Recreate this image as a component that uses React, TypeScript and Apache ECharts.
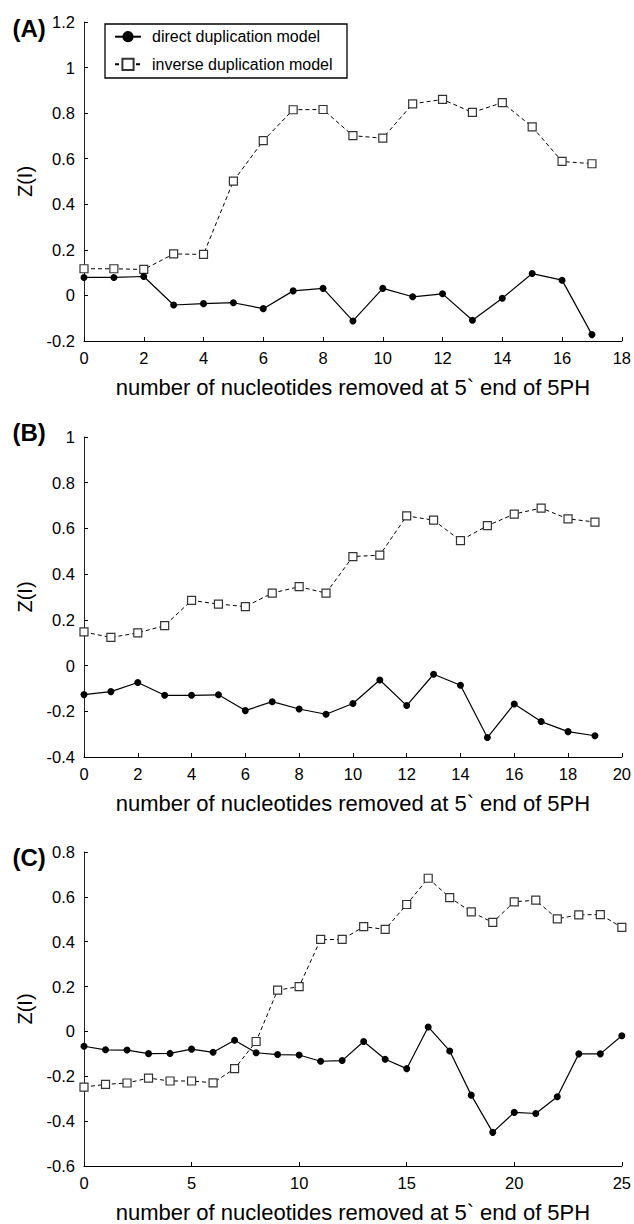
import React, { useEffect, useRef } from "react";
import * as echarts from "echarts";

// Panel A: x = 0..17
const directA = [0.079, 0.079, 0.083, -0.042, -0.036, -0.032, -0.058, 0.02, 0.031, -0.112, 0.031, -0.006, 0.007, -0.109, -0.012, 0.096, 0.067, -0.172];
const inverseA = [0.117, 0.117, 0.114, 0.182, 0.18, 0.502, 0.679, 0.815, 0.816, 0.701, 0.69, 0.841, 0.86, 0.803, 0.846, 0.74, 0.588, 0.578];

// Panel B: x = 0..19
const directB = [-0.127, -0.114, -0.074, -0.13, -0.13, -0.128, -0.197, -0.158, -0.19, -0.213, -0.166, -0.063, -0.175, -0.038, -0.086, -0.315, -0.168, -0.245, -0.289, -0.307];
const inverseB = [0.147, 0.123, 0.143, 0.175, 0.285, 0.269, 0.258, 0.317, 0.345, 0.317, 0.477, 0.483, 0.655, 0.636, 0.547, 0.612, 0.663, 0.689, 0.642, 0.628];

// Panel C: x = 0..25
const directC = [-0.066, -0.082, -0.083, -0.099, -0.098, -0.079, -0.093, -0.039, -0.095, -0.103, -0.105, -0.133, -0.13, -0.045, -0.124, -0.166, 0.02, -0.087, -0.284, -0.45, -0.361, -0.366, -0.291, -0.1, -0.1, -0.019];
const inverseC = [-0.248, -0.236, -0.23, -0.208, -0.221, -0.221, -0.229, -0.166, -0.045, 0.184, 0.2, 0.41, 0.41, 0.467, 0.455, 0.566, 0.683, 0.597, 0.533, 0.486, 0.578, 0.585, 0.502, 0.52, 0.521, 0.464];

const panelLabels = ["(A)", "(B)", "(C)"];
const xMax = [18, 20, 25];
const xStep = [2, 2, 5];
const yMin = [-0.2, -0.4, -0.6];
const yMax = [1.2, 1, 0.8];
const seriesNames = ["direct duplication model", "inverse duplication model"];
const xTitle = "number of nucleotides removed at 5` end of 5PH";
const yTitle = "Z(I)";

const FONT = "'Liberation Sans', Arial, Helvetica, sans-serif";

const toPairs = (arr: number[]) => arr.map((v, i) => [i, v]);

export default function App() {
  const ref = useRef<HTMLDivElement>(null);

  useEffect(() => {
    document.body.style.margin = "0";
    if (!ref.current) return;
    const chart = echarts.init(ref.current, undefined, { renderer: "svg" });

    const grids = [
      { left: 84, top: 22, width: 538, height: 319 },
      { left: 84, top: 437, width: 538, height: 320 },
      { left: 84, top: 852, width: 538, height: 321 },
    ];
    const labelY = [28.3, 432.5, 857.5];

    const xAxes = grids.map((_, i) => ({
      type: "value",
      gridIndex: i,
      min: 0,
      max: xMax[i],
      interval: xStep[i],
      name: xTitle,
      nameLocation: "middle",
      nameGap: 35,
      nameTextStyle: { fontSize: 22, color: "#000", fontFamily: FONT },
      axisLine: { show: true, onZero: false, lineStyle: { color: "#000", width: 1 } },
      axisTick: { show: true, inside: true, length: 4, lineStyle: { color: "#000", width: 1 } },
      axisLabel: { fontSize: 16.5, margin: 8, color: "#000", fontFamily: FONT },
      splitLine: { show: false },
    }));

    const yAxes = grids.map((_, i) => ({
      type: "value",
      gridIndex: i,
      min: yMin[i],
      max: yMax[i],
      interval: 0.2,
      name: yTitle,
      nameLocation: "middle",
      nameGap: 49,
      nameTextStyle: { fontSize: 20, color: "#000", fontFamily: FONT },
      axisLine: { show: true, onZero: false, lineStyle: { color: "#222", width: 1 } },
      axisTick: { show: true, inside: true, length: 4, lineStyle: { color: "#000", width: 1 } },
      axisLabel: { fontSize: 16.5, margin: 9, color: "#000", fontFamily: FONT },
      splitLine: { show: false },
    }));

    const directStyle = {
      type: "line",
      name: seriesNames[0],
      symbol: "circle",
      symbolSize: 7,
      itemStyle: { color: "#000" },
      lineStyle: { color: "#000", width: 1.2, type: "solid" },
    };
    const inverseStyle = {
      type: "line",
      name: seriesNames[1],
      symbol: "rect",
      symbolSize: 8,
      itemStyle: { color: "#fff", borderColor: "#333", borderWidth: 1.2 },
      lineStyle: { color: "#000", width: 1, type: [4, 3] },
    };

    const directs = [directA, directB, directC];
    const inverses = [inverseA, inverseB, inverseC];
    const series: any[] = [];
    for (let i = 0; i < 3; i++) {
      series.push({ ...directStyle, xAxisIndex: i, yAxisIndex: i, data: toPairs(directs[i]), z: 3 });
      series.push({ ...inverseStyle, xAxisIndex: i, yAxisIndex: i, data: toPairs(inverses[i]), z: 2 });
    }

    chart.setOption({
      animation: false,
      backgroundColor: "#fff",
      grid: grids,
      xAxis: xAxes,
      yAxis: yAxes,
      series,
      legend: {
        data: seriesNames,
        orient: "vertical",
        left: 114,
        top: 28.7,
        padding: 0,
        itemWidth: 26,
        itemHeight: 14,
        itemGap: 11.6,
        selectedMode: false,
        textStyle: { fontSize: 16, lineHeight: 16, color: "#000", fontFamily: FONT, padding: [0, 0, 0, 6] },
      },
      graphic: [
        {
          type: "rect",
          shape: { x: 105, y: 24, width: 242, height: 54 },
          style: { fill: "none", stroke: "#000", lineWidth: 1.3 },
          z: 1,
        },
        ...panelLabels.map((t, i) => ({
          type: "text",
          x: 12.5,
          y: labelY[i],
          style: {
            text: t,
            fontSize: 24,
            fontWeight: "bold",
            fontFamily: FONT,
            fill: "#000",
            verticalAlign: "middle",
            align: "left",
          },
        })),
      ],
    });

    return () => chart.dispose();
  }, []);

  return (
    <div
      ref={ref}
      style={{ position: "absolute", left: 0, top: 0, width: 634, height: 1224 }}
    />
  );
}
